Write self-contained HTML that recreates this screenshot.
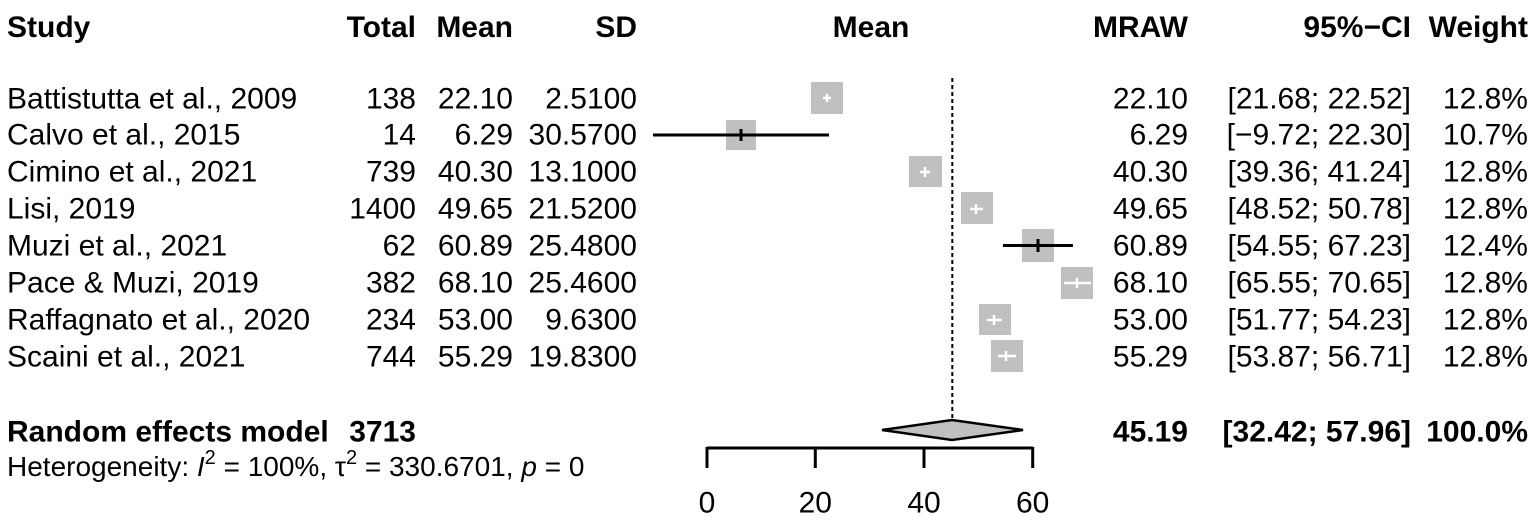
<!DOCTYPE html>
<html><head><style>body{margin:0;background:#fff}svg{display:block}text{font-family:"Liberation Sans",Arial,sans-serif;font-size:30px;fill:#000}</style></head>
<body><svg width="1535" height="524" viewBox="0 0 1535 524">
<g font-weight="bold">
<text x="7" y="37">Study</text>
<text x="416" y="37" text-anchor="end">Total</text>
<text x="513" y="37" text-anchor="end">Mean</text>
<text x="637" y="37" text-anchor="end">SD</text>
<text x="871" y="37" text-anchor="middle">Mean</text>
<text x="1188" y="37" text-anchor="end">MRAW</text>
<text x="1411" y="37" text-anchor="end">95%−CI</text>
<text x="1528" y="37" text-anchor="end">Weight</text>
</g>
<g dominant-baseline="central">
<text x="7" y="99">Battistutta et al., 2009</text><text x="416" y="99" text-anchor="end">138</text><text x="513" y="99" text-anchor="end">22.10</text><text x="637" y="99" text-anchor="end">2.5100</text><text x="1188" y="99" text-anchor="end">22.10</text><text x="1411" y="99" text-anchor="end">[21.68; 22.52]</text><text x="1528" y="99" text-anchor="end">12.8%</text>
<text x="7" y="135">Calvo et al., 2015</text><text x="416" y="135" text-anchor="end">14</text><text x="513" y="135" text-anchor="end">6.29</text><text x="637" y="135" text-anchor="end">30.5700</text><text x="1188" y="135" text-anchor="end">6.29</text><text x="1411" y="135" text-anchor="end">[−9.72; 22.30]</text><text x="1528" y="135" text-anchor="end">10.7%</text>
<text x="7" y="172">Cimino et al., 2021</text><text x="416" y="172" text-anchor="end">739</text><text x="513" y="172" text-anchor="end">40.30</text><text x="637" y="172" text-anchor="end">13.1000</text><text x="1188" y="172" text-anchor="end">40.30</text><text x="1411" y="172" text-anchor="end">[39.36; 41.24]</text><text x="1528" y="172" text-anchor="end">12.8%</text>
<text x="7" y="209">Lisi, 2019</text><text x="416" y="209" text-anchor="end">1400</text><text x="513" y="209" text-anchor="end">49.65</text><text x="637" y="209" text-anchor="end">21.5200</text><text x="1188" y="209" text-anchor="end">49.65</text><text x="1411" y="209" text-anchor="end">[48.52; 50.78]</text><text x="1528" y="209" text-anchor="end">12.8%</text>
<text x="7" y="246">Muzi et al., 2021</text><text x="416" y="246" text-anchor="end">62</text><text x="513" y="246" text-anchor="end">60.89</text><text x="637" y="246" text-anchor="end">25.4800</text><text x="1188" y="246" text-anchor="end">60.89</text><text x="1411" y="246" text-anchor="end">[54.55; 67.23]</text><text x="1528" y="246" text-anchor="end">12.4%</text>
<text x="7" y="283">Pace &amp; Muzi, 2019</text><text x="416" y="283" text-anchor="end">382</text><text x="513" y="283" text-anchor="end">68.10</text><text x="637" y="283" text-anchor="end">25.4600</text><text x="1188" y="283" text-anchor="end">68.10</text><text x="1411" y="283" text-anchor="end">[65.55; 70.65]</text><text x="1528" y="283" text-anchor="end">12.8%</text>
<text x="7" y="320">Raffagnato et al., 2020</text><text x="416" y="320" text-anchor="end">234</text><text x="513" y="320" text-anchor="end">53.00</text><text x="637" y="320" text-anchor="end">9.6300</text><text x="1188" y="320" text-anchor="end">53.00</text><text x="1411" y="320" text-anchor="end">[51.77; 54.23]</text><text x="1528" y="320" text-anchor="end">12.8%</text>
<text x="7" y="357">Scaini et al., 2021</text><text x="416" y="357" text-anchor="end">744</text><text x="513" y="357" text-anchor="end">55.29</text><text x="637" y="357" text-anchor="end">19.8300</text><text x="1188" y="357" text-anchor="end">55.29</text><text x="1411" y="357" text-anchor="end">[53.87; 56.71]</text><text x="1528" y="357" text-anchor="end">12.8%</text>
<g font-weight="bold">
<text x="7" y="432">Random effects model</text><text x="416" y="432" text-anchor="end">3713</text><text x="1188" y="432" text-anchor="end">45.19</text><text x="1411" y="432" text-anchor="end">[32.42; 57.96]</text><text x="1528" y="432" text-anchor="end">100.0%</text>
</g>
</g>
<text x="7" y="476" style="font-size:28px">Heterogeneity: <tspan font-style="italic">I</tspan><tspan dy="-12" style="font-size:20px">2</tspan><tspan dy="12"> = 100%, τ</tspan><tspan dy="-12" style="font-size:20px">2</tspan><tspan dy="12"> = 330.6701, </tspan><tspan font-style="italic">p</tspan> = 0</text>
<line x1="952.3" y1="78" x2="952.3" y2="440" stroke="#000" stroke-width="2" stroke-dasharray="4,3"/>
<g fill="#c0c0c0">
<rect x="811" y="82" width="32" height="32"/>
<rect x="726" y="120" width="30" height="30"/>
<rect x="909" y="156" width="33" height="31"/>
<rect x="961" y="192" width="32" height="32"/>
<rect x="1022" y="229" width="32" height="33"/>
<rect x="1061" y="267" width="32" height="32"/>
<rect x="979" y="304" width="32" height="31"/>
<rect x="991" y="340" width="32" height="32"/>
</g>
<g stroke="#fff" stroke-width="2.5">
<line x1="823" y1="98" x2="831" y2="98"/><line x1="827" y1="94" x2="827" y2="102"/>
<line x1="920" y1="172" x2="930" y2="172"/><line x1="925" y1="167" x2="925" y2="177"/>
<line x1="970" y1="209" x2="983" y2="209"/><line x1="976" y1="204" x2="976" y2="214"/>
<line x1="1064" y1="283" x2="1091" y2="283"/><line x1="1077" y1="278" x2="1077" y2="288"/>
<line x1="987" y1="320" x2="1002" y2="320"/><line x1="994" y1="315" x2="994" y2="325"/>
<line x1="998" y1="356" x2="1016" y2="356"/><line x1="1006" y1="351" x2="1006" y2="361"/>
</g>
<g stroke="#000" stroke-width="3">
<line x1="653" y1="135" x2="829" y2="135"/><line x1="741" y1="129" x2="741" y2="141"/>
<line x1="1003" y1="245.5" x2="1073" y2="245.5"/><line x1="1038" y1="239" x2="1038" y2="252"/>
</g>
<polygon points="882,430 952,420 1023,430 952,440" fill="#c0c0c0" stroke="#000" stroke-width="2.5"/>
<g stroke="#000" stroke-width="3" fill="none">
<line x1="707" y1="448" x2="1033" y2="448"/>
<line x1="707" y1="447" x2="707" y2="468"/><line x1="815.3" y1="447" x2="815.3" y2="468"/><line x1="924" y1="447" x2="924" y2="468"/><line x1="1032.7" y1="447" x2="1032.7" y2="468"/>
</g>
<g text-anchor="middle" dominant-baseline="central">
<text x="707" y="503" style="font-size:30px">0</text><text x="815.3" y="503" style="font-size:30px">20</text><text x="924" y="503" style="font-size:30px">40</text><text x="1032.7" y="503" style="font-size:30px">60</text>
</g>
</svg></body></html>
